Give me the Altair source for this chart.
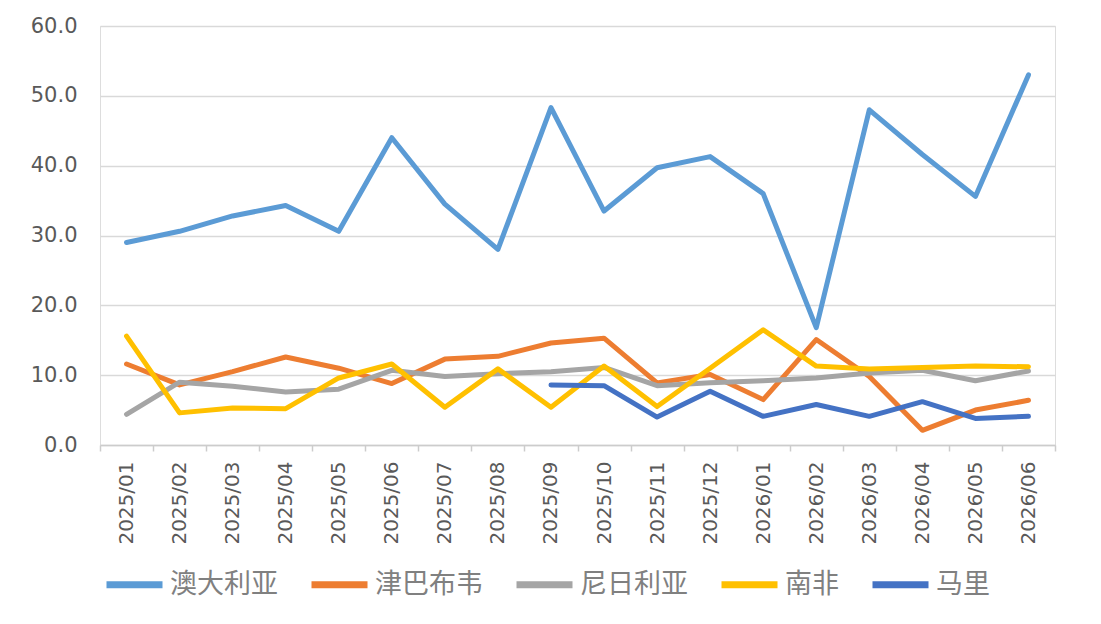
import altair as alt
import pandas as pd

months = ["2025/01", "2025/02", "2025/03", "2025/04", "2025/05", "2025/06",
          "2025/07", "2025/08", "2025/09", "2025/10", "2025/11", "2025/12",
          "2026/01", "2026/02", "2026/03", "2026/04", "2026/05", "2026/06"]

series_names = ["澳大利亚", "津巴布韦", "尼日利亚", "南非", "马里"]
colors = ["#5B9BD5", "#ED7D31", "#A5A5A5", "#FFC000", "#4472C4"]

australia = [29.0, 30.6, 32.8, 34.3, 30.6, 44.0, 34.5, 28.0, 48.3, 33.5, 39.7, 41.3,
             36.0, 16.8, 48.0, 41.6, 35.6, 53.0]
zimbabwe = [11.6, 8.6, 10.5, 12.6, 11.0, 8.8, 12.3, 12.7, 14.6, 15.3, 8.9, 10.1,
            6.5, 15.1, 9.8, 2.1, 5.0, 6.4]
niger = [4.4, 9.0, 8.4, 7.6, 8.0, 10.7, 9.8, 10.2, 10.5, 11.1, 8.5, 8.9,
         9.2, 9.6, 10.3, 10.7, 9.2, 10.6]
south_africa = [15.6, 4.6, 5.3, 5.2, 9.6, 11.6, 5.4, 10.9, 5.4, 11.3, 5.5, 11.0,
                16.5, 11.3, 10.9, 11.1, 11.3, 11.2]
mali = [None, None, None, None, None, None, None, None, 8.6, 8.5, 4.0, 7.7,
        4.1, 5.8, 4.1, 6.2, 3.8, 4.1]

all_series = [australia, zimbabwe, niger, south_africa, mali]

rows = []
for name, vals in zip(series_names, all_series):
    for m, v in zip(months, vals):
        if v is not None:
            rows.append({"month": m, "country": name, "value": v})
df = pd.DataFrame(rows)

FONT = "DejaVu Sans"
CJK = "Noto Sans CJK SC"

chart = alt.Chart(df).mark_line(strokeWidth=5, strokeJoin="round", strokeCap="round").encode(
    x=alt.X("month:O", sort=months, bandPosition=0.5,
            scale=alt.Scale(type="band", paddingInner=0, paddingOuter=0),
            axis=alt.Axis(title=None, labelAngle=270, labelFont=FONT, labelFontSize=20,
                          labelColor="#595959", labelPadding=10, tickBand="extent",
                          tickSize=6, tickColor="#cccccc", tickWidth=1.5,
                          domainColor="#cccccc", domainWidth=1.5, grid=False)),
    y=alt.Y("value:Q", scale=alt.Scale(domain=[0, 60], nice=False),
            axis=alt.Axis(title=None, values=[0, 10, 20, 30, 40, 50, 60], format=".1f",
                          labelFont=FONT, labelFontSize=21, labelColor="#595959",
                          labelPadding=23, ticks=False, domain=False,
                          gridColor="#d9d9d9", gridWidth=1.5)),
    color=alt.Color("country:N", sort=series_names,
                    scale=alt.Scale(domain=series_names, range=colors),
                    legend=alt.Legend(title=None, orient="none", direction="horizontal",
                                      legendX=3, legendY=527,
                                      symbolType="stroke", symbolSize=3136,
                                      symbolStrokeWidth=7, labelFont=CJK,
                                      labelFontSize=27, labelColor="#808080",
                                      labelOffset=4, columnPadding=19)),
    order=alt.Order("country_order:Q"),
).transform_calculate(
    country_order="indexof(['澳大利亚','津巴布韦','尼日利亚','南非','马里'], datum.country)"
).properties(
    width=955, height=419,
    autosize=alt.AutoSizeParams(type="none"),
    padding={"left": 100, "top": 26, "right": 46, "bottom": 179},
).configure_view(stroke=None).configure(background="white")

chart.save("out.html", embed_options={"renderer": "svg", "actions": False})
